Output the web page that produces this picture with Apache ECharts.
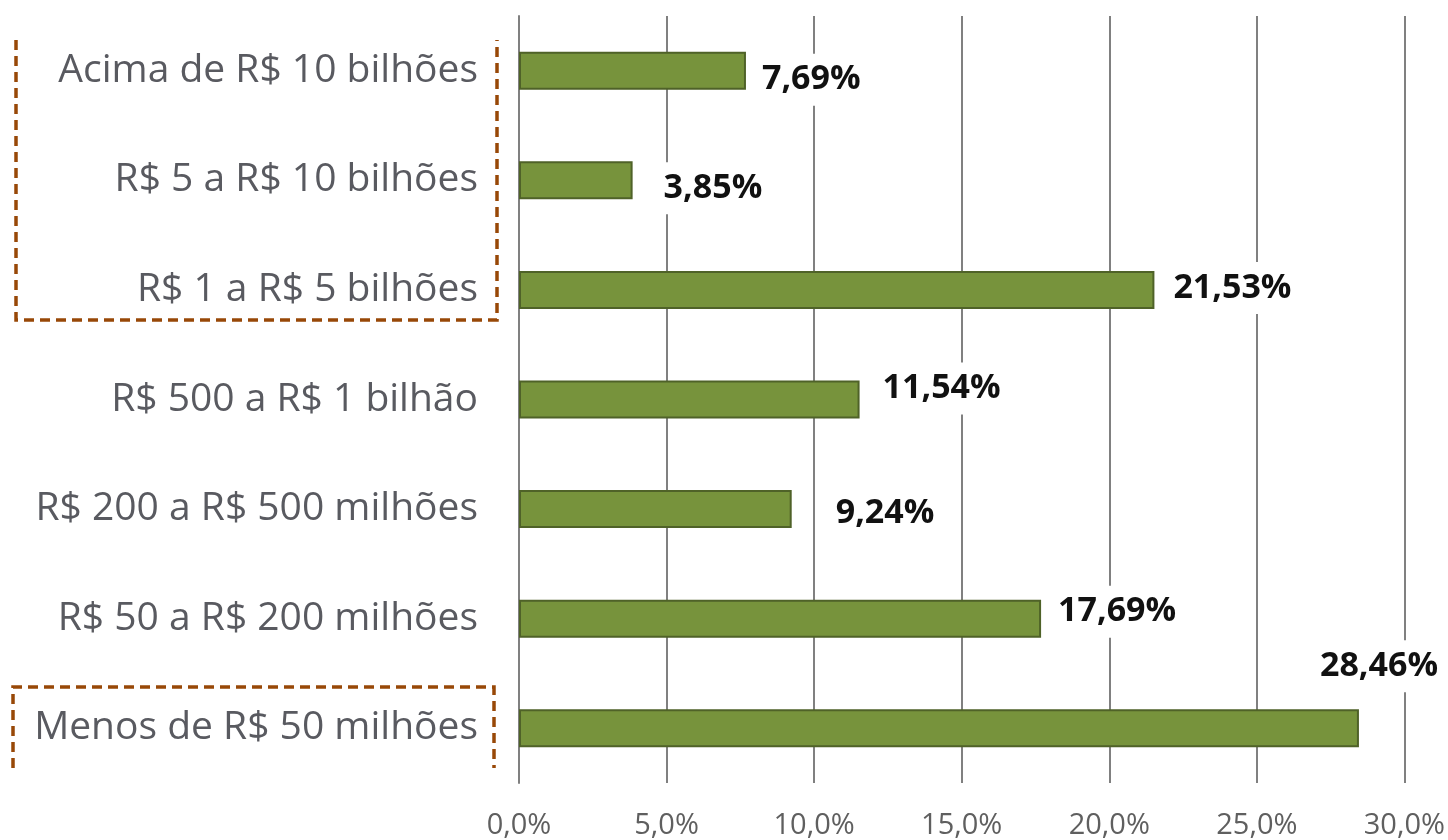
<!DOCTYPE html>
<html>
<head>
<meta charset="utf-8">
<script src="https://cdn.jsdelivr.net/npm/echarts@6/dist/echarts.min.js"></script>
<style>
  html, body { margin: 0; padding: 0; background: #ffffff; }
  #chart { width: 1448px; height: 840px; }
</style>
</head>
<body>
<div id="chart"></div>
<script>
// Faixas de faturamento (de cima para baixo)
const categories = [
  'Acima de R$ 10 bilhões',
  'R$ 5 a R$ 10 bilhões',
  'R$ 1 a R$ 5 bilhões',
  'R$ 500 a R$ 1 bilhão',
  'R$ 200 a R$ 500 milhões',
  'R$ 50 a R$ 200 milhões',
  'Menos de R$ 50 milhões'
];

// Participação de cada faixa (%)
const shares = [7.69, 3.85, 21.53, 11.54, 9.24, 17.69, 28.46];

// Escala do eixo horizontal (%)
const axisMin = 0;
const axisMax = 30;
const axisStep = 5;

// Ajuste manual dos rótulos de dados [dx, dy] em px, na ordem das faixas
const labelNudge = [
  [10, 9], [25, 8], [13, -2], [17, -11], [38, 4], [11, -7], [-45, -62]
];

const fmtPct = (v, d) => v.toFixed(d).replace('.', ',') + '%';

const chart = echarts.init(document.getElementById('chart'));

const barData = shares.map((v, i) => ({
  value: v,
  label: { offset: labelNudge[i] }
}));

const font = '"Open Sans", "Noto Sans", sans-serif';

chart.setOption({
  animation: false,
  backgroundColor: '#ffffff',
  grid: { left: 519, right: 43, top: 16, bottom: 57, containLabel: false },
  xAxis: {
    type: 'value',
    min: axisMin,
    max: axisMax,
    interval: axisStep,
    axisLine: { show: false },
    axisTick: { show: false },
    axisLabel: {
      margin: 28,
      color: '#5f5f5f',
      fontFamily: font,
      fontSize: 29,
      formatter: v => fmtPct(v, 1)
    },
    splitLine: { show: true, lineStyle: { color: '#808080', width: 2 } }
  },
  yAxis: {
    type: 'category',
    data: categories,
    inverse: true,
    axisLine: { show: true, lineStyle: { color: '#808080', width: 2 } },
    axisTick: { show: false },
    axisLabel: {
      margin: 41,
      color: '#595a60',
      fontFamily: font,
      fontSize: 39
    }
  },
  series: [{
    type: 'bar',
    data: barData,
    barWidth: 38,
    itemStyle: { color: '#77933c', borderColor: '#4f6228', borderWidth: 2 },
    label: {
      show: true,
      position: 'right',
      distance: 0,
      color: '#111111',
      fontFamily: font,
      fontWeight: 'bold',
      fontSize: 34,
      lineHeight: 38,
      backgroundColor: '#ffffff',
      padding: [7, 6, 7, 6],
      formatter: p => fmtPct(p.value, 2)
    }
  }],
  graphic: [
    {
      type: 'polyline',
      z: 100,
      shape: { points: [[16, 40], [16, 320], [497, 320], [497, 40]] },
      style: { stroke: '#984807', lineWidth: 3.5, lineDash: [10, 6], fill: null }
    },
    {
      type: 'polyline',
      z: 100,
      shape: { points: [[13, 768], [13, 687], [494, 687], [494, 768]] },
      style: { stroke: '#984807', lineWidth: 3.5, lineDash: [10, 6], fill: null }
    }
  ]
});
</script>
</body>
</html>
